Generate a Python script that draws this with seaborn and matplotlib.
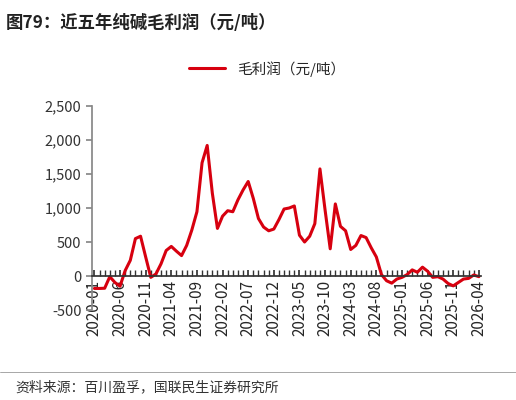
import matplotlib
matplotlib.use("Agg")
import matplotlib.pyplot as plt
import seaborn as sns
import pandas as pd

sns.set_theme(style="white")
plt.rcParams['font.family'] = ['Noto Sans CJK SC', 'DejaVu Sans']

months = pd.period_range("2020-01", "2026-04", freq="M").strftime("%Y-%m").tolist()
profit = [-183, -183, -180, -10, -95, -150, 80, 230, 550, 585, 280, -20, 30, 180, 375, 435,
          365, 300, 450, 675, 945, 1665, 1920, 1220, 700, 880, 960, 945, 1120, 1265, 1390,
          1140, 845, 720, 665, 690, 830, 985, 1000, 1030, 600, 500, 585, 770, 1575, 970,
          400, 1060, 730, 665, 390, 450, 595, 565, 415, 280, 20, -70, -105, -45, -20, 20,
          90, 55, 130, 70, -20, -10, -45, -110, -145, -95, -45, -35, 15, -10]
df = pd.DataFrame({"month": months, "毛利润（元/吨）": profit, "i": range(len(months))})

fig = plt.figure(figsize=(5.16, 4.0), dpi=100)
ax = fig.add_axes([0.178, 0.225, 0.755, 0.51])
sns.lineplot(data=df, x="i", y="毛利润（元/吨）", ax=ax, color="#D7000F", lw=2.2,
             label="毛利润（元/吨）")
ax.set_ylim(-500, 2500)
ax.set_xlim(-0.5, len(months) - 0.5)
ax.set_yticks(range(-500, 2501, 500))
ax.set_yticklabels([f"{v:,}" for v in range(-500, 2501, 500)], fontsize=10.5, color="#333333")
ax.set_xticks(range(len(months)), minor=True)
ax.set_xticks(range(0, len(months), 5))
ax.set_xticklabels(months[::5], fontsize=10.5, color="#777777")
ax.tick_params(axis="x", which="both", direction="in", length=4, color="#333333", pad=3,
               bottom=True, labelrotation=90)
ax.tick_params(axis="y", length=4, color="#888888", left=True, direction="out")
ax.spines["bottom"].set_position(("data", 0))
ax.spines["bottom"].set_color("#333333")
ax.spines["left"].set_color("#888888")
for s in ["top", "right"]:
    ax.spines[s].set_visible(False)
ax.set_xlabel("")
ax.set_ylabel("")
ax.legend(loc="lower center", bbox_to_anchor=(0.45, 1.08), frameon=False, fontsize=10.5,
          handlelength=2.5)

fig.text(0.012, 0.965, "图79：近五年纯碱毛利润（元/吨）", fontsize=12.5, fontweight="bold",
         color="#222222", va="top")
fig.add_artist(plt.Line2D([0.0, 1.0], [0.07, 0.07], color="#999999", lw=0.6))
fig.text(0.03, 0.032, "资料来源：百川盈孚，国联民生证券研究所", fontsize=10, color="#333333", va="center")
fig.savefig("out.png", dpi=100)
